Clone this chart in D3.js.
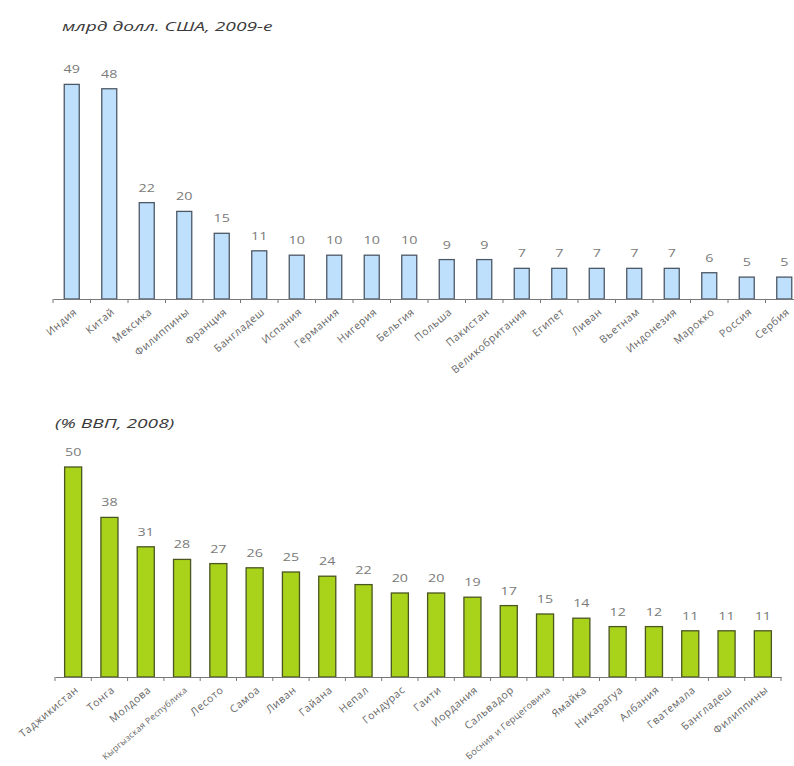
<!DOCTYPE html>
<html><head><meta charset="utf-8">
<script src="https://cdn.jsdelivr.net/npm/d3@7/dist/d3.min.js"></script>
<style>body{margin:0;background:#fff}svg{display:block}</style>
</head><body>
<script>
const titleTop = "млрд долл. США, 2009-е";
const catsTop = ["Индия","Китай","Мексика","Филиппины","Франция","Бангладеш","Испания","Германия","Нигерия","Бельгия","Польша","Пакистан","Великобритания","Египет","Ливан","Вьетнам","Индонезия","Марокко","Россия","Сербия"];
const valsTop = [49,48,22,20,15,11,10,10,10,10,9,9,7,7,7,7,7,6,5,5];

const titleBot = "(% ВВП, 2008)";
const catsBot = ["Таджикистан","Тонга","Молдова","Кыргызская Республика","Лесото","Самоа","Ливан","Гайана","Непал","Гондурас","Гаити","Иордания","Сальвадор","Босния и Герцеговина","Ямайка","Никарагуа","Албания","Гватемала","Бангладеш","Филиппины"];
const valsBot = [50,38,31,28,27,26,25,24,22,20,20,19,17,15,14,12,12,11,11,11];

const W = 794, H = 766;
const svg = d3.select("body").append("svg").attr("width", W).attr("height", H);
const font = "'Open Sans', 'Liberation Sans', sans-serif";
const ANG = 40;

function panel(cfg){
  const g = svg.append("g");
  const x = d3.scaleBand().domain(cfg.cats).range(cfg.xr).paddingInner(cfg.pad).paddingOuter(cfg.pad/2);
  const y = d3.scaleLinear().domain([0, 50]).range([cfg.base, cfg.top]);
  g.append("text").attr("transform", `translate(${cfg.tx},${cfg.ty}) scale(1.6,1)`).text(cfg.title)
    .attr("font-family", font).attr("font-style", "italic").attr("font-size", 12).attr("fill", "#3a3a3a");
  g.selectAll("rect.bar").data(cfg.vals).join("rect").attr("class","bar")
    .attr("x", (d,i) => x(cfg.cats[i]))
    .attr("y", d => y(d))
    .attr("width", x.bandwidth())
    .attr("height", d => cfg.base - y(d))
    .attr("fill", cfg.fill).attr("stroke", cfg.stroke).attr("stroke-width", 1.3);
  g.selectAll("text.val").data(cfg.vals).join("text").attr("class","val")
    .attr("transform", (d,i) => `translate(${x(cfg.cats[i]) + x.bandwidth()/2},${y(d) - 11}) scale(1.3,1)`)
    .attr("text-anchor", "middle").attr("font-family", font).attr("font-size", 11).attr("fill", "#7a7a7a")
    .text(d => d);
  const ax = g.append("g").attr("transform", `translate(0,${cfg.base})`)
    .call(d3.axisBottom(x).tickSize(0).tickFormat(""));
  ax.select(".domain").attr("stroke", "#777").attr("stroke-width", 1.2);
  const gap = x.step() - x.bandwidth();
  const bounds = cfg.cats.map(c => x(c) - gap/2).concat([x(cfg.cats[cfg.cats.length-1]) + x.bandwidth() + gap/2]);
  g.selectAll("line.tk").data(bounds).join("line").attr("class","tk")
    .attr("x1", d => d).attr("x2", d => d).attr("y1", cfg.base).attr("y2", cfg.base + 4)
    .attr("stroke", "#777");
  const ay = cfg.base + 14;
  g.selectAll("text.cat").data(cfg.cats).join("text").attr("class","cat")
    .attr("transform", c => `translate(${x(c) + x.bandwidth()/2 + 6},${ay}) rotate(-${ANG})`)
    .attr("text-anchor", "end").attr("font-family", font).attr("font-size", 10.5)
    .attr("letter-spacing", 0.6).attr("fill", "#666")
    .text(c => c)
    .each(function(){
      // shrink a label that would run past the bottom edge
      const maxLen = (H - 3 - ay) / Math.sin(ANG * Math.PI / 180);
      const len = this.getComputedTextLength();
      if (len > maxLen) {
        d3.select(this).attr("font-size", 10.5 * maxLen / len).attr("letter-spacing", 0.3);
      }
    });
}

panel({title: titleTop, cats: catsTop, vals: valsTop, xr: [53, 803], pad: 0.6, base: 299, top: 80,
  tx: 62, ty: 31, fill: "#bfe0fc", stroke: "#4d5866"});
panel({title: titleBot, cats: catsBot, vals: valsBot, xr: [55, 781], pad: 0.53, base: 677, top: 467,
  tx: 55, ty: 428, fill: "#a9d31a", stroke: "#4a5520"});
</script>
</body></html>
